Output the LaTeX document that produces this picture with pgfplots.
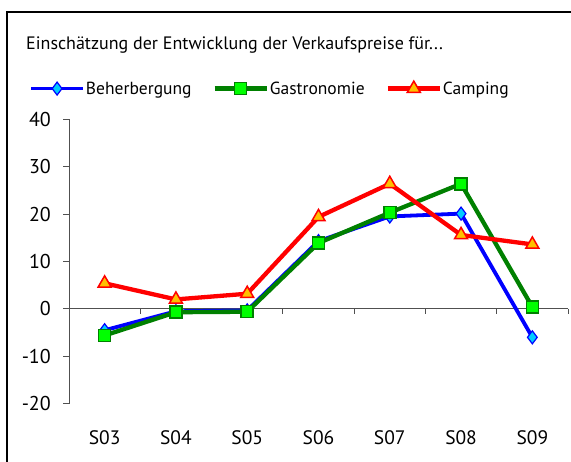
\documentclass[border=0pt]{standalone}
\usepackage{fontspec}
\setmainfont{PT Sans}
\usepackage{pgfplots}
\pgfplotsset{compat=1.18}
\definecolor{cblue}{RGB}{0,0,255}
\definecolor{cgreen}{RGB}{0,128,0}
\definecolor{cred}{RGB}{255,0,0}
\definecolor{fblue}{RGB}{0,204,255}
\definecolor{fgreen}{RGB}{0,255,0}
\definecolor{fred}{RGB}{255,192,0}
\definecolor{axgray}{RGB}{80,80,80}
\begin{document}
\begin{tikzpicture}[x=1pt,y=1pt]
\useasboundingbox (0,0) rectangle (571,462);
\draw[line width=1.2pt,black] (7,-20) -- (7,450) -- (600,450);
\node[anchor=base west,inner sep=0pt,font=\fontsize{18}{21}\selectfont] at (26,412) {Einschätzung der Entwicklung der Verkaufspreise für...};
\begin{axis}[
  at={(69pt,58.3pt)}, anchor=south west,
  scale only axis, width=499pt, height=284.4pt,
  xmin=-0.5, xmax=6.5, ymin=-20, ymax=40,
  clip=false,
  axis y line*=left,
  axis x line*=bottom,
  x axis line style={draw=none},
  y axis line style={axgray, line width=0.8pt},
  xtick={0,...,6},
  xticklabels={S03,S04,S05,S06,S07,S08,S09},
  major x tick style={draw=none},
  ytick={-20,-10,0,10,20,30,40},
  ytick style={axgray, line width=0.8pt},
  tick align=outside,
  major tick length=6pt,
  xticklabel style={anchor=center, yshift=-28pt, inner sep=0pt, font=\fontsize{19.5}{22}\selectfont},
  yticklabel style={anchor=east, inner sep=0pt, xshift=-12pt, font=\fontsize{20}{22}\selectfont},
  /pgf/number format/assume math mode=true,
  legend columns=3,
  legend style={at={(-0.0802,1.108)}, anchor=west, draw=none, fill=none, inner sep=0pt,
    font=\fontsize{17.5}{21}\selectfont,
    nodes={inner xsep=1pt},
    /tikz/every even column/.append style={column sep=20pt},
    /tikz/every odd column/.append style={column sep=0pt}},
  legend image code/.code={\draw[mark repeat=2,mark phase=2] plot coordinates {(0pt,0pt) (26pt,0pt) (52pt,0pt)};},
]
\draw[axgray, line width=0.8pt] (axis cs:-0.5,0) -- (axis cs:6.5,0);
\pgfplotsinvokeforeach{-0.5,0.5,1.5,2.5,3.5,4.5,5.5,6.5}{\draw[axgray, line width=0.8pt] (axis cs:#1,0) -- ([yshift=-5pt]axis cs:#1,0);}
\addplot[cblue, line width=3.8pt, mark=diamond*, mark size=6.5pt, mark options={fill=fblue, draw=cblue, line width=1.2pt}]
  coordinates {(0,-4.5) (1,-0.5) (2,-0.3) (3,14.3) (4,19.5) (5,20.1) (6,-6.0)};
\addlegendentry{Beherbergung}
\addplot[cgreen, line width=4.3pt, mark=square*, mark size=6pt, mark options={fill=fgreen, draw=cgreen, line width=1.5pt}]
  coordinates {(0,-5.6) (1,-0.7) (2,-0.6) (3,13.9) (4,20.3) (5,26.4) (6,0.4)};
\addlegendentry{Gastronomie}
\addplot[cred, line width=4.3pt, mark=triangle*, mark size=7.5pt, mark options={fill=fred, draw=cred, line width=1.5pt}]
  coordinates {(0,5.4) (1,2.0) (2,3.2) (3,19.4) (4,26.4) (5,15.6) (6,13.6)};
\addlegendentry{Camping}
\end{axis}
\end{tikzpicture}
\end{document}
